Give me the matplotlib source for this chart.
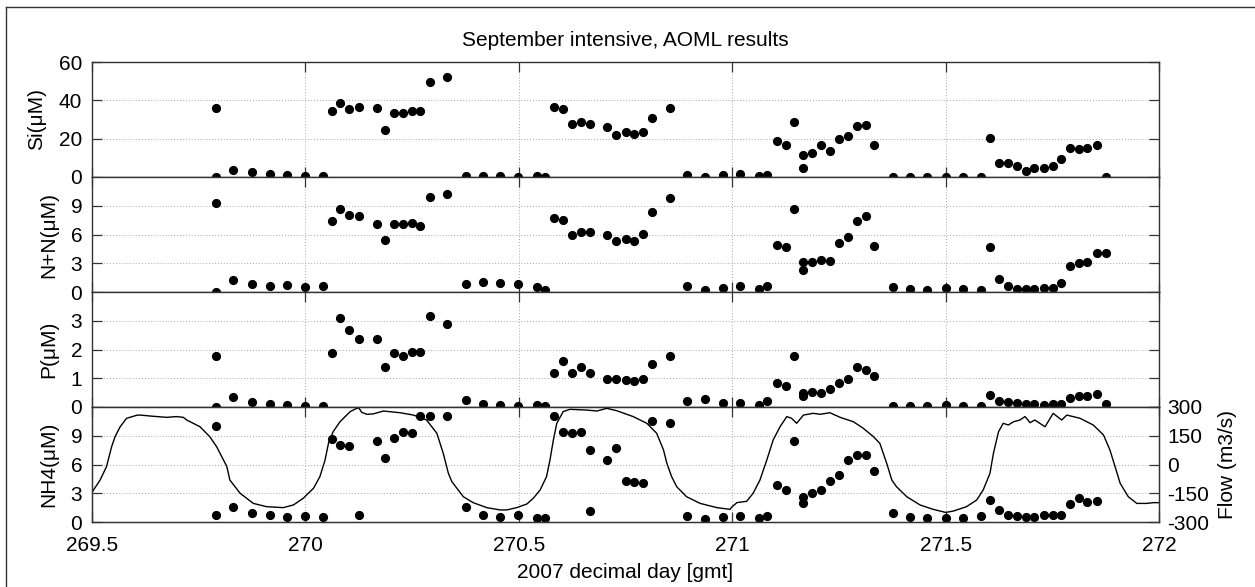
import numpy as np
import matplotlib
matplotlib.use("Agg")
import matplotlib.pyplot as plt
from matplotlib.lines import Line2D

plt.rcParams['font.family'] = ['Liberation Sans', 'DejaVu Sans']
plt.rcParams['axes.unicode_minus'] = False

# ---------------- data ----------------
day = [269.791, 269.831, 269.875, 269.917, 269.957, 270.000, 270.041, 270.062, 270.082, 270.103,
       270.125, 270.167, 270.187, 270.207, 270.229, 270.250, 270.269, 270.291, 270.332, 270.376,
       270.417, 270.456, 270.499, 270.542, 270.562, 270.582, 270.604, 270.625, 270.645, 270.666,
       270.707, 270.728, 270.750, 270.770, 270.792, 270.813, 270.854, 270.894, 270.937, 270.979,
       271.019, 271.062, 271.082, 271.104, 271.125, 271.144, 271.166, 271.187, 271.207, 271.229,
       271.250, 271.271, 271.292, 271.314, 271.332, 271.376, 271.417, 271.456, 271.500, 271.541,
       271.582, 271.605, 271.626, 271.646, 271.667, 271.688, 271.708, 271.730, 271.751, 271.770,
       271.792, 271.813, 271.832, 271.855, 271.875]

si = [36.2, 3.8, 2.6, 1.6, 0.9, 0.4, 0.5, 34.6, 38.8, 35.6,
      36.5, 36.2, 24.5, 33.2, 33.2, 34.3, 34.3, 49.6, 52.3, 0.7,
      0.3, 0.3, 0.2, 0.7, 0.2, 36.5, 35.3, 27.5, 28.5, 27.5,
      25.9, 22.1, 23.3, 22.3, 23.3, 30.6, 36.2, 0.9, 0.2, 0.9,
      1.6, 0.7, 1.2, 18.9, 16.9, 28.9, 11.3, 12.3, 16.9, 13.6,
      19.8, 21.4, 26.6, 27.1, 16.9, 0.2, 0.2, 0.2, 0.2, 0.2,
      0.2, 20.2, 7.5, 7.5, 5.7, 3.0, 4.5, 4.5, 5.9, 9.4,
      15.3, 14.8, 15.3, 16.7, 0.2]

nn = [9.32, 1.25, 0.80, 0.63, 0.73, 0.52, 0.63, 7.44, 8.66, 8.03,
      7.90, 7.06, 5.43, 7.06, 7.06, 7.16, 6.92, 9.91, 10.26, 0.87,
      1.04, 0.94, 0.80, 0.49, 0.24, 7.72, 7.51, 5.91, 6.29, 6.23,
      5.91, 5.29, 5.53, 5.36, 6.05, 8.31, 9.84, 0.63, 0.24, 0.42,
      0.66, 0.35, 0.59, 4.87, 4.66, 8.66, 3.16, 3.10, 3.34, 3.27,
      5.11, 5.74, 7.44, 7.90, 4.83, 0.56, 0.35, 0.17, 0.42, 0.35,
      0.21, 4.66, 1.32, 0.63, 0.35, 0.28, 0.35, 0.42, 0.42, 0.90,
      2.75, 3.06, 3.10, 4.07, 4.07]

p = [1.79, 0.34, 0.19, 0.09, 0.06, 0.03, 0.03, 1.89, 3.08, 2.69,
     2.38, 2.38, 1.38, 1.89, 1.79, 1.91, 1.91, 3.18, 2.90, 0.23,
     0.09, 0.06, 0.03, 0.08, 0.05, 1.18, 1.59, 1.18, 1.38, 1.18,
     0.96, 0.97, 0.95, 0.89, 0.97, 1.50, 1.77, 0.20, 0.28, 0.13,
     0.15, 0.08, 0.20, 0.85, 0.74, 1.79, 0.48, 0.53, 0.48, 0.62,
     0.82, 0.97, 1.38, 1.29, 1.09, 0.05, 0.03, 0.03, 0.06, 0.03,
     0.03, 0.42, 0.22, 0.17, 0.13, 0.09, 0.09, 0.06, 0.10, 0.11,
     0.32, 0.38, 0.38, 0.46, 0.09]

nh4 = [10.0, 1.57, 0.98, 0.73, 0.52, 0.60, 0.52, 8.65, 8.02, 7.95,
       0.73, 8.44, 6.66, 8.79, 9.42, 9.25, 11.1, 11.1, 11.1, 1.54,
       0.77, 0.52, 0.77, 0.46, 0.46, 11.06, 9.42, 9.28, 9.35, 7.53,
       6.42, 7.74, 4.29, 4.15, 4.08, 10.5, 10.3, 0.67, 0.35, 0.49,
       0.60, 0.46, 0.60, 3.91, 3.35, 8.47, 2.62, 3.07, 3.35, 4.26,
       4.89, 6.45, 7.01, 7.04, 5.27, 0.91, 0.52, 0.42, 0.42, 0.46,
       0.67, 2.34, 1.30, 0.73, 0.60, 0.52, 0.52, 0.70, 0.70, 0.73,
       1.88, 2.55, 2.09, 2.20, np.nan]

# replicate samples at the same time
dup_day = [269.791, 270.666, 271.166]
dup_si = [0.0, np.nan, 4.5]
dup_nn = [0.03, np.nan, 2.30]
dup_p = [0.0, np.nan, 0.39]
dup_nh4 = [0.73, 1.15, 1.99]

# river flow (m3/s)
flow_day = [269.500, 269.519, 269.534, 269.546, 269.554, 269.566, 269.581, 269.605, 269.612, 269.636,
            269.675, 269.698, 269.714, 269.722,
            269.753, 269.776, 269.792, 269.816, 269.823, 269.847, 269.878, 269.909, 269.948, 269.972,
            269.995, 270.019, 270.034, 270.046, 270.054, 270.065, 270.081, 270.105, 270.120, 270.125,
            270.132, 270.144, 270.159, 270.183, 270.222, 270.253, 270.269, 270.284, 270.308, 270.323,
            270.335, 270.343, 270.355, 270.370, 270.393, 270.425, 270.456, 270.472, 270.495, 270.519,
            270.534, 270.550, 270.565, 270.573, 270.581, 270.589, 270.604, 270.620, 270.659, 270.683,
            270.706, 270.729, 270.768, 270.800, 270.823, 270.839, 270.847, 270.858, 270.870, 270.893,
            270.925, 270.964, 270.995, 271.000, 271.011, 271.034, 271.049, 271.065, 271.081, 271.096,
            271.112, 271.128, 271.139, 271.151, 271.167, 271.190, 271.206, 271.229, 271.253, 271.284,
            271.307, 271.331, 271.346, 271.362, 271.374, 271.385, 271.409, 271.440, 271.471, 271.500,
            271.518, 271.549, 271.573, 271.588, 271.604, 271.612, 271.624, 271.635, 271.647, 271.659,
            271.674, 271.686, 271.698, 271.709, 271.733, 271.752, 271.772, 271.784, 271.815, 271.846,
            271.870, 271.885, 271.897, 271.909, 271.928, 271.948, 271.971, 271.987, 272.000]
flow_val = [-145, -81, -11, 93, 145, 197, 241, 257, 258, 253,
            246, 250, 246, 232,
            197, 145, 93, -11, -81, -150, -203, -220, -225, -211,
            -176, -124, -63, 23, 110, 171, 223, 276, 293, 296,
            272, 262, 264, 279, 270, 258, 245, 232, 163, 58,
            -46, -89, -124, -168, -199, -225, -237, -237, -225, -206,
            -176, -133, -63, 23, 128, 215, 276, 288, 284, 279,
            293, 281, 250, 215, 163, 76, 6, -63, -116, -168,
            -203, -225, -234, -220, -199, -192, -150, -81, 23, 128,
            197, 250, 241, 215, 258, 267, 262, 270, 246, 223,
            189, 145, 110, 6, -81, -116, -168, -211, -234, -250,
            -243, -220, -185, -133, -46, 58, 171, 215, 206, 223,
            232, 250, 218, 232, 197, 267, 232, 258, 241, 206,
            154, 76, -11, -98, -168, -203, -203, -199, -199]

panel_values = [si, nn, p, nh4]
panel_dups = [dup_si, dup_nn, dup_p, dup_nh4]
panel_labels = ['Si(\u03bcM)', 'N+N(\u03bcM)', 'P(\u03bcM)', 'NH4(\u03bcM)']
panel_ylim = [(0, 60), (0, 12), (0, 4), (0, 12)]
panel_yticks = [[0, 20, 40, 60], [0, 3, 6, 9], [0, 1, 2, 3], [0, 3, 6, 9]]
xticks = [269.5, 270, 270.5, 271, 271.5, 272]
xtick_labels = ['269.5', '270', '270.5', '271', '271.5', '272']
flow_ticks = [-300, -150, 0, 150, 300]

# ---------------- figure ----------------
W, H = 1255, 587
fig = plt.figure(figsize=(W / 100, H / 100), dpi=100)
fig.patch.set_facecolor('white')

left_px, right_px = 92, 1159
tops = [62, 177, 292, 407]
ph = 115
fs = 15
spine_c = '#333333'
grid_kw = dict(color='#a8a8a8', linestyle=(0, (1, 2)), linewidth=0.7)

axes = []
for i in range(4):
    top = tops[i]
    ax = fig.add_axes([left_px / W, (H - top - ph) / H, (right_px - left_px) / W, ph / H])
    ax.plot(day, panel_values[i], 'o', color='black', markersize=5.6, linestyle='none')
    ax.plot(dup_day, panel_dups[i], 'o', color='black', markersize=5.6, linestyle='none')
    ax.set_xlim(269.5, 272)
    ax.set_ylim(*panel_ylim[i])
    ax.set_yticks(panel_yticks[i])
    ax.set_xticks(xticks)
    ax.grid(True, **grid_kw)
    ax.set_axisbelow(True)
    for s in ax.spines.values():
        s.set_color(spine_c)
        s.set_linewidth(1.0)
    ax.tick_params(axis='both', direction='in', length=7.5, width=0.9, color=spine_c,
                   labelsize=fs, top=True, right=(i < 3), pad=7)
    ax.set_ylabel(panel_labels[i], fontsize=fs, labelpad=9)
    if i < 3:
        ax.tick_params(axis='x', labelbottom=False)
    else:
        ax.set_xticklabels(xtick_labels)
        ax.tick_params(axis='x', pad=10)
    axes.append(ax)

ax4 = axes[3]
axr = ax4.twinx()
axr.plot(flow_day, flow_val, color='black', linewidth=1.0)
axr.set_ylim(-300, 300)
axr.set_yticks(flow_ticks)
axr.set_xlim(269.5, 272)
axr.tick_params(axis='y', direction='in', length=7.5, width=0.9, color=spine_c,
                labelsize=fs, pad=6)
for s in axr.spines.values():
    s.set_color(spine_c)
axr.set_ylabel('Flow (m3/s)', fontsize=fs, labelpad=6)

fig.text(625.5 / W, 1 - 40 / H, 'September intensive, AOML results', fontsize=fs,
         ha='center', va='center')
fig.text(625.5 / W, 1 - 573 / H, '2007 decimal day [gmt]', fontsize=fs,
         ha='center', va='center')

# outer frame (left and top edges visible)
fig.add_artist(Line2D([6 / W, 6 / W], [0, 1 - 7 / H], color='#333333', linewidth=1.0,
                      transform=fig.transFigure))
fig.add_artist(Line2D([6 / W, 1], [1 - 7 / H, 1 - 7 / H], color='#333333', linewidth=1.0,
                      transform=fig.transFigure))

fig.savefig('out.png', dpi=100)
